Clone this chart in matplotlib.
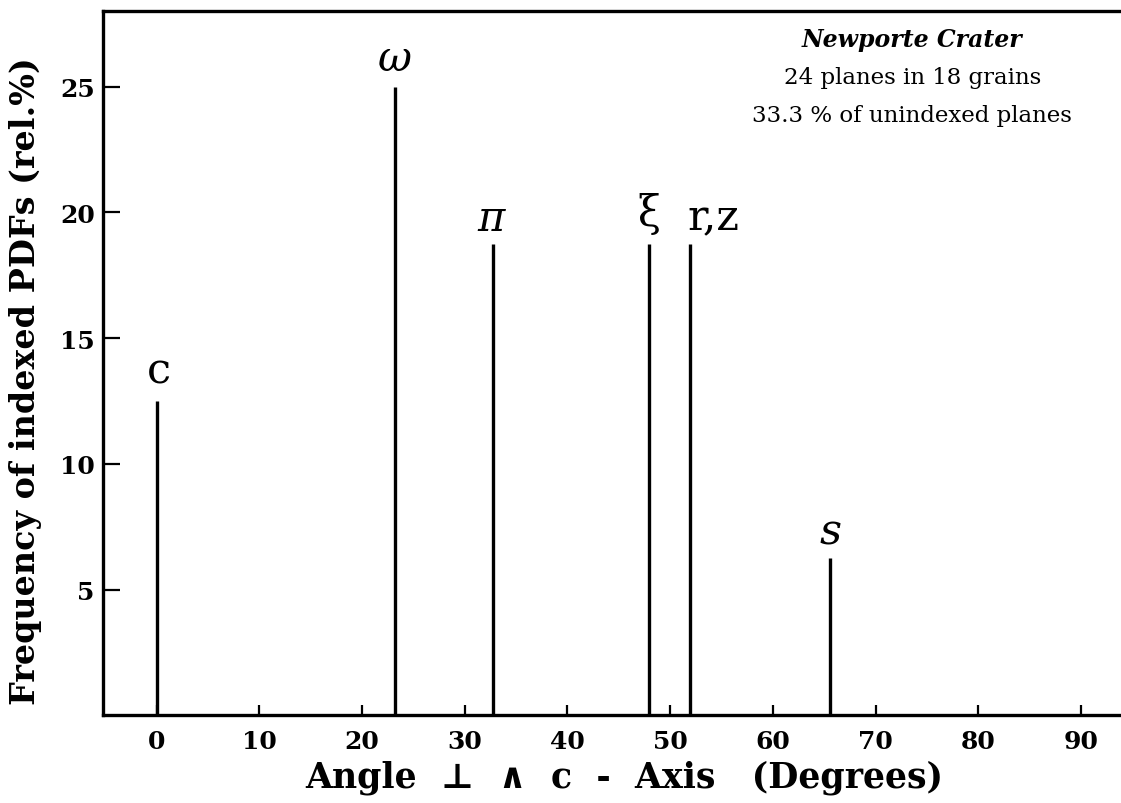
import matplotlib.pyplot as plt

# angle between plane normal and c-axis, relative frequency
angles = [0.0, 23.2, 32.8, 47.9, 51.9, 65.6]
freqs = [12.5, 25.0, 18.75, 18.75, 18.75, 6.25]
names = ['c', 'ω', 'π', 'ξ', 'r,z', 's']

x_ticks = [0, 10, 20, 30, 40, 50, 60, 70, 80, 90]
y_ticks = [5, 10, 15, 20, 25]

info_title = 'Newporte Crater'
info_lines = ['24 planes in 18 grains', '33.3 % of unindexed planes']

serif = ['DejaVu Serif']

fig = plt.figure(figsize=(11.21, 8.04), dpi=100)
ax = fig.add_axes([0.092, 0.109, 0.908, 0.876])

ax.vlines(angles, 0, freqs, color='black', linewidth=2.4)

# peak labels (offsets in data units, baseline above line top)
label_style = {
    'c': dict(size=31, style='normal', dy=0.75, dx=0.2),
    'ω': dict(size=30, style='italic', dy=0.65, dx=0.0),
    'π': dict(size=30, style='italic', dy=0.56, dx=-0.2),
    'ξ': dict(size=30, style='normal', dy=0.75, dx=0.0),
    'r,z': dict(size=31, style='normal', dy=0.56, dx=2.3),
    's': dict(size=31, style='italic', dy=0.6, dx=0.0),
}
for a, f, n in zip(angles, freqs, names):
    st = label_style[n]
    ax.text(a + st['dx'], f + st['dy'], n, ha='center', va='baseline',
            fontsize=st['size'], fontstyle=st['style'], family=serif)

ax.text(0.795, 0.960, info_title, transform=ax.transAxes, ha='center',
        va='center', fontsize=17, fontstyle='italic', fontweight='bold',
        family=serif)
ax.text(0.795, 0.906, info_lines[0], transform=ax.transAxes, ha='center',
        va='center', fontsize=16.5, family=serif)
ax.text(0.795, 0.852, info_lines[1], transform=ax.transAxes, ha='center',
        va='center', fontsize=16.5, family=serif)

ax.set_xlim(-5.2, 93.9)
ax.set_ylim(0, 28)
ax.set_xticks(x_ticks)
ax.set_yticks(y_ticks)
ax.tick_params(axis='both', direction='in', width=1.6, labelsize=18)
ax.tick_params(axis='x', length=7, pad=10)
ax.tick_params(axis='y', length=12, pad=6)
for lab in ax.get_xticklabels() + ax.get_yticklabels():
    lab.set_fontweight('bold')
    lab.set_family(serif)

for side in ['left', 'bottom', 'top']:
    ax.spines[side].set_linewidth(2.4)
ax.spines['right'].set_visible(False)

ax.set_xlabel('Angle  ⊥  ∧  c  -  Axis   (Degrees)', fontsize=25,
              fontweight='bold', family=serif)
ax.set_ylabel('Frequency of indexed PDFs (rel.%)', fontsize=24,
              fontweight='bold', family=serif)
ax.xaxis.set_label_coords(0.512, -0.062)
ax.yaxis.set_label_coords(-0.06, 0.476)

fig.savefig('out.png', dpi=100)
